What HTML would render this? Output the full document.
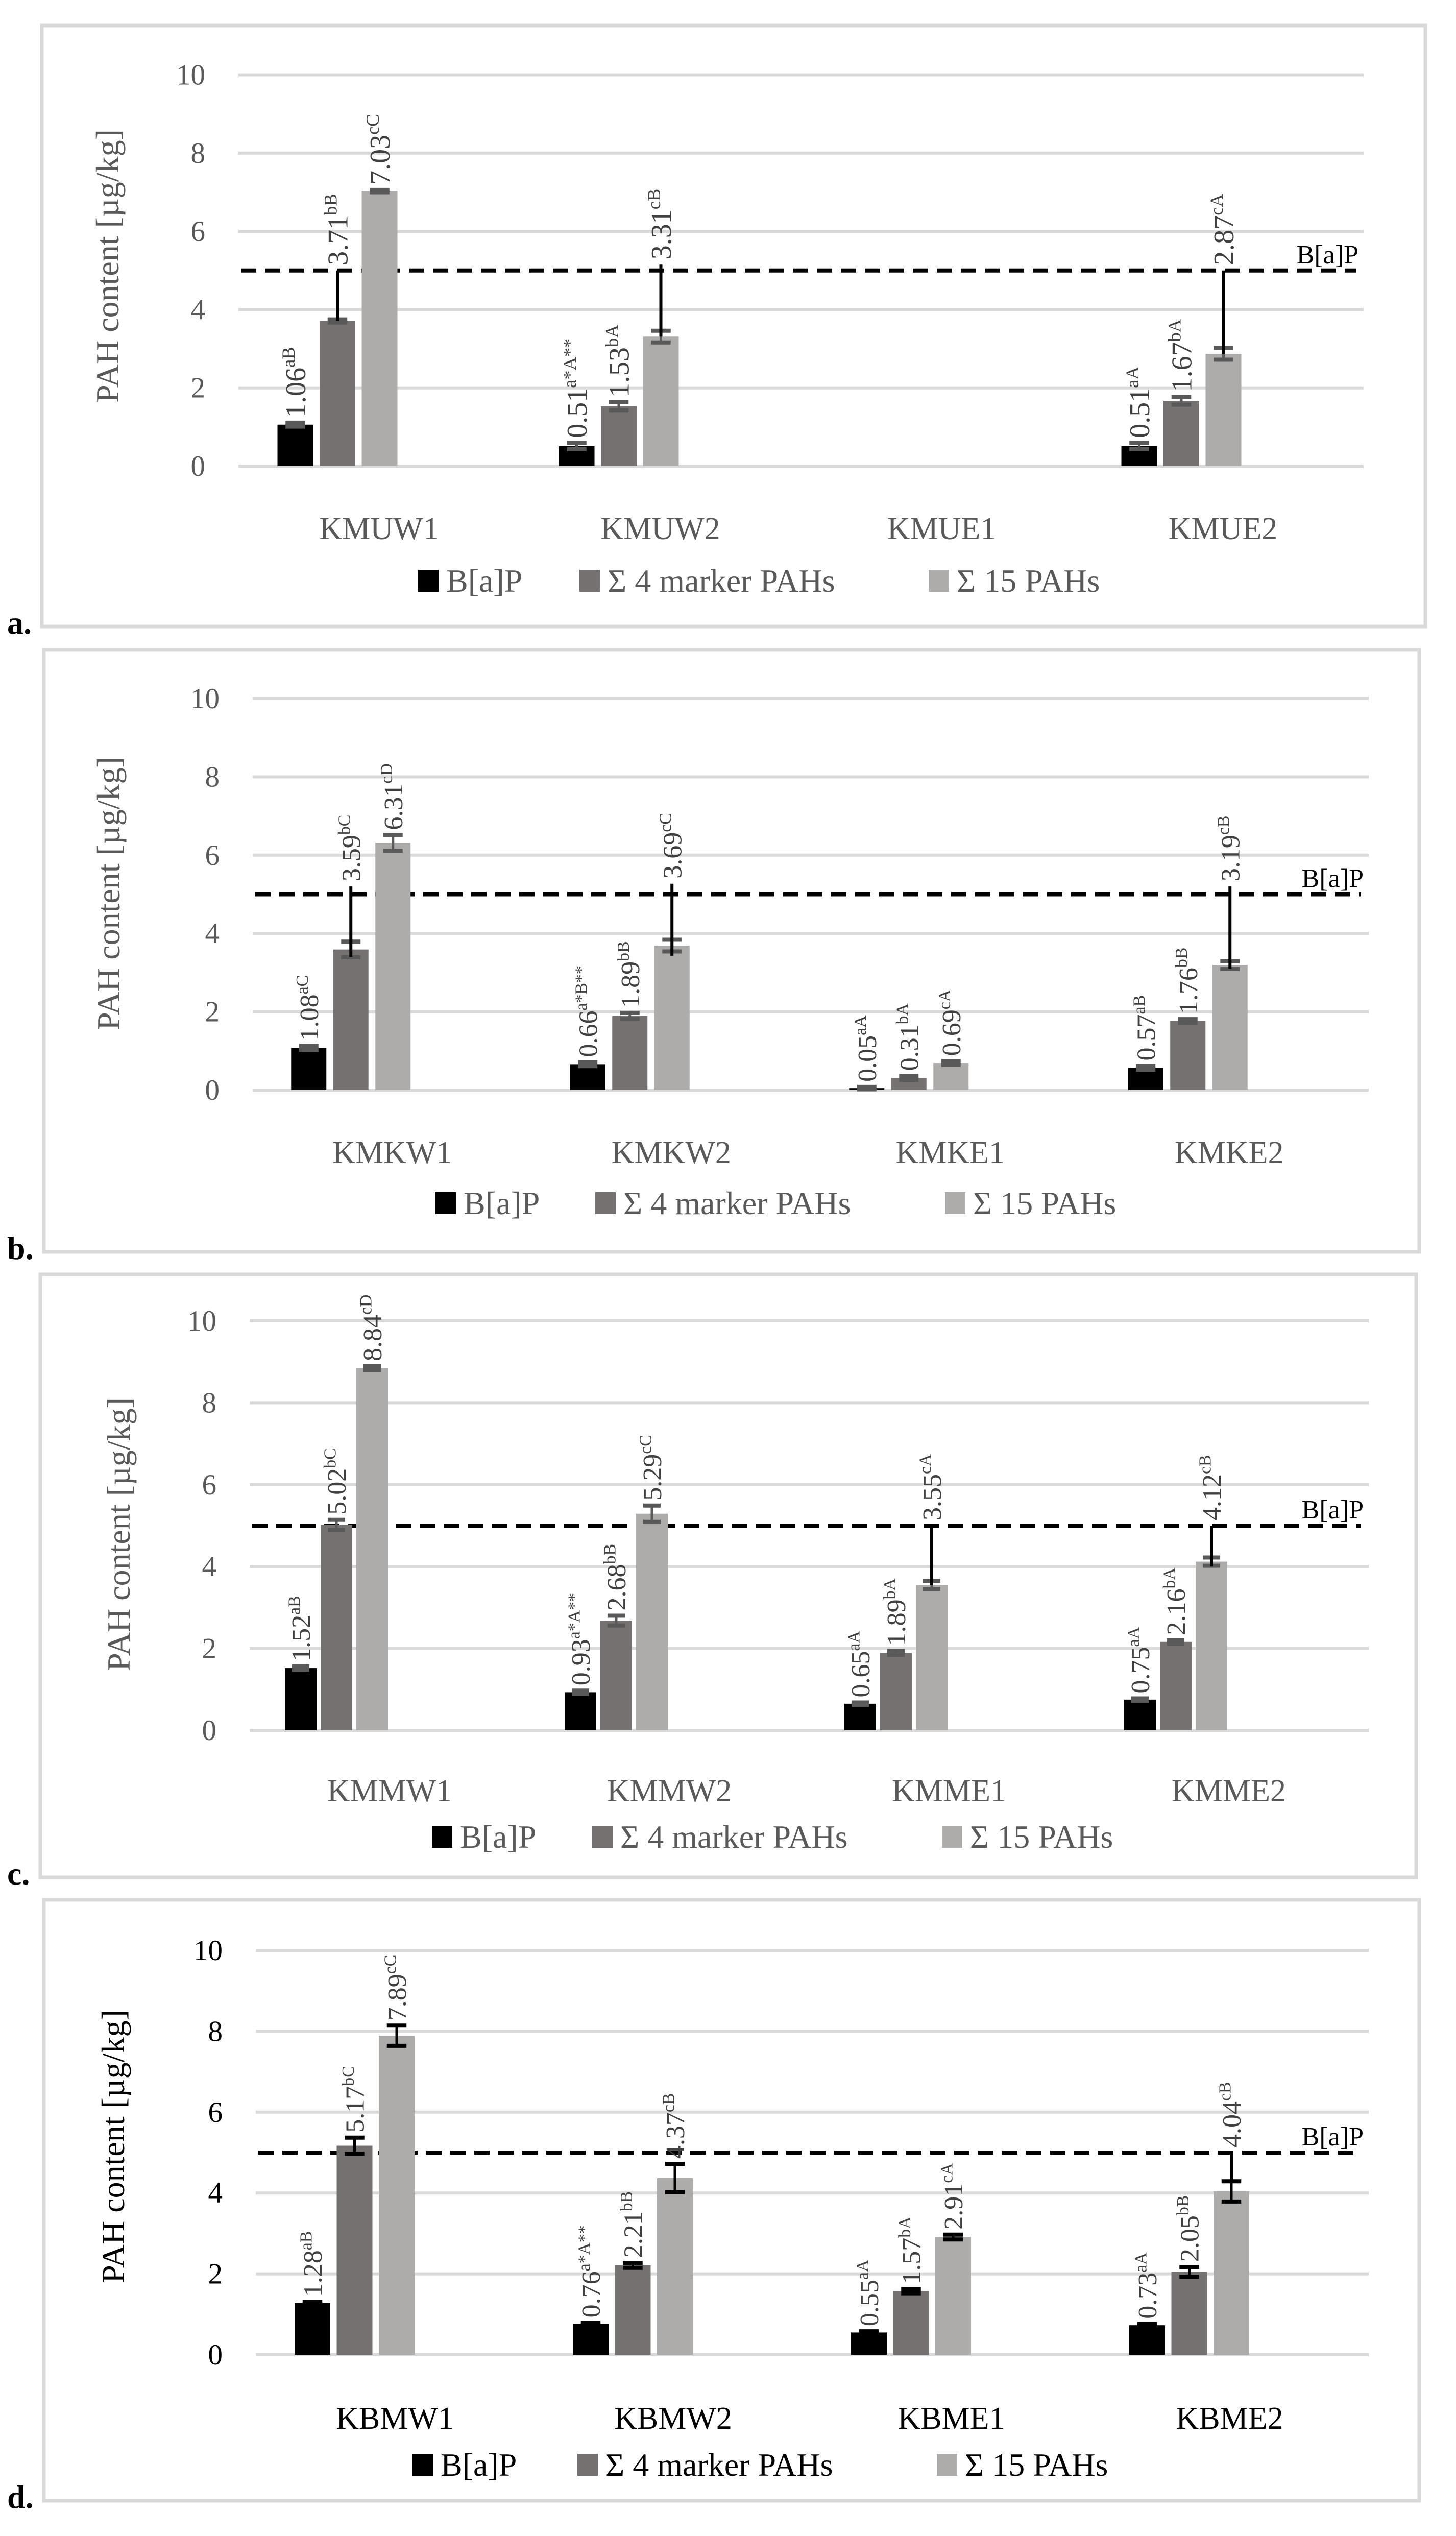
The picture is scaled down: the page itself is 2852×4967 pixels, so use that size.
<!DOCTYPE html>
<html><head><meta charset="utf-8">
<style>
html,body{margin:0;padding:0;background:#fff;}
svg{display:block;}
svg text{font-family:"Liberation Serif","DejaVu Serif",serif;}
</style></head>
<body>
<svg id="chart" width="2852" height="4967" viewBox="0 0 2852 4967" font-family="Liberation Serif, DejaVu Serif, serif" xmlns="http://www.w3.org/2000/svg"></svg>
<script>
// ---- data: panel a ----
const catsA = ["KMUW1","KMUW2","KMUE1","KMUE2"];
const bapA = [1.06, 0.51, null, 0.51];
const m4A  = [3.71, 1.53, null, 1.67];
const p15A = [7.03, 3.31, null, 2.87];
const bapSupA = ["aB","a*A**","","aA"];
const m4SupA  = ["bB","bA","","bA"];
const p15SupA = ["cC","cB","","cA"];
const errA = [[0.05,0.04,0.03],[0.08,0.1,0.15],[0,0,0],[0.08,0.1,0.15]];
const whiskA = [[null,[3.71,5.0],null],[null,null,[3.31,5.15]],[null,null,null],[null,null,[2.87,5.0]]];
// ---- data: panel b ----
const catsB = ["KMKW1","KMKW2","KMKE1","KMKE2"];
const bapB = [1.08, 0.66, 0.05, 0.57];
const m4B  = [3.59, 1.89, 0.31, 1.76];
const p15B = [6.31, 3.69, 0.69, 3.19];
const bapSupB = ["aC","a*B**","aA","aB"];
const m4SupB  = ["bC","bB","bA","bB"];
const p15SupB = ["cD","cC","cA","cB"];
const errB = [[0.05,0.2,0.2],[0.05,0.08,0.15],[0.03,0.05,0.05],[0.05,0.05,0.1]];
const whiskB = [[null,[3.4,5.2],null],[null,null,[3.43,5.27]],[null,null,null],[null,null,[3.1,5.2]]];
// ---- data: panel c ----
const catsC = ["KMMW1","KMMW2","KMME1","KMME2"];
const bapC = [1.52, 0.93, 0.65, 0.75];
const m4C  = [5.02, 2.68, 1.89, 2.16];
const p15C = [8.84, 5.29, 3.55, 4.12];
const bapSupC = ["aB","a*A**","aA","aA"];
const m4SupC  = ["bC","bB","bA","bA"];
const p15SupC = ["cD","cC","cA","cB"];
const errC = [[0.04,0.12,0.05],[0.04,0.12,0.2],[0.03,0.05,0.1],[0.03,0.04,0.1]];
const whiskC = [[null,null,null],[null,null,null],[null,null,[3.55,5.0]],[null,null,[4.0,5.0]]];
// ---- data: panel d ----
const catsD = ["KBMW1","KBMW2","KBME1","KBME2"];
const bapD = [1.28, 0.76, 0.55, 0.73];
const m4D  = [5.17, 2.21, 1.57, 2.05];
const p15D = [7.89, 4.37, 2.91, 4.04];
const bapSupD = ["aB","a*A**","aA","aA"];
const m4SupD  = ["bC","bB","bA","bB"];
const p15SupD = ["cC","cB","cA","cB"];
const errD = [[0.03,0.2,0.25],[0.03,0.06,0.35],[0.03,0.05,0.06],[0.03,0.12,0.25]];
const whiskD = [[null,null,null],[null,null,null],[null,null,null],[null,null,[4.3,5.0]]];
const yTicks = [0,2,4,6,8,10];
const limitValue = 5;
const seriesNames = ["B[a]P","Σ 4 marker PAHs","Σ 15 PAHs"];

const NS = "http://www.w3.org/2000/svg";
const svg = document.getElementById("chart");
function mk(tag, attrs, parent){
  const e = document.createElementNS(NS, tag);
  for (const k in attrs) e.setAttribute(k, attrs[k]);
  (parent||svg).appendChild(e);
  return e;
}
const colors = ["#000000","#767171","#AEABAB"];

const panels = [
  {letter:"a.", cats:catsA, vals:[bapA,m4A,p15A], sups:[bapSupA,m4SupA,p15SupA], err:errA, wh:whiskA,
   fx:82, fy:50, fw:2710, fh:1177, gl:467, gr:2671, y0:913, y10:146.5, off:-199, bw:70, st:82.5,
   catY:1035, legY:1138, legX:[819,1135,1819], ytX:210, ytY:521, lab:56, cap:"#595959", ttl:"#595959"},
  {letter:"b.", cats:catsB, vals:[bapB,m4B,p15B], sups:[bapSupB,m4SupB,p15SupB], err:errB, wh:whiskB,
   fx:86, fy:1273, fw:2694, fh:1179, gl:495, gr:2681, y0:2135, y10:1368, off:-198, bw:69, st:82.5,
   catY:2257, legY:2357, legX:[853,1166,1851], ytX:212, ytY:1750, lab:52, cap:"#595959", ttl:"#595959"},
  {letter:"c.", cats:catsC, vals:[bapC,m4C,p15C], sups:[bapSupC,m4SupC,p15SupC], err:errC, wh:whiskC,
   fx:79, fy:2496, fw:2695, fh:1181, gl:489, gr:2681, y0:3389, y10:2587, off:-205, bw:62, st:70,
   catY:3507, legY:3598, legX:[846,1160,1845], ytX:232, ytY:3005, lab:52, cap:"#595959", ttl:"#595959"},
  {letter:"d.", cats:catsD, vals:[bapD,m4D,p15D], sups:[bapSupD,m4SupD,p15SupD], err:errD, wh:whiskD,
   fx:86, fy:3721, fw:2694, fh:1177, gl:501, gr:2681, y0:4612, y10:3820, off:-196.5, bw:70, st:82.5,
   catY:4736, legY:4828, legX:[808,1131,1835], ytX:221, ytY:4204, lab:52, cap:"#000000", ttl:"#000000"}
];

panels.forEach((p, pi) => {
  const g = mk("g", {});
  
  
  const fr = mk("rect", {x:p.fx, y:p.fy, width:p.fw, height:p.fh, fill:"none", stroke:"#D9D9D9", "stroke-width":7}, g);
  
  
  const yv = v => p.y0 - (p.y0 - p.y10) * v / 10;
  const gw = (p.gr - p.gl) / p.cats.length;
  yTicks.forEach(t => {
    const ln = mk("line", {x1:p.gl, x2:p.gr, y1:yv(t), y2:yv(t), stroke:"#D9D9D9", "stroke-width":6}, g);
    
    
    const tx = mk("text", {x:p.gl-65, y:yv(t)+19, "text-anchor":"end", "font-size":57, fill:p.ttl}, g);
    tx.textContent = t;
    
    
  });
  const yt = mk("text", {x:0, y:0, transform:`translate(${p.ytX+22},${p.ytY}) rotate(-90)`, "text-anchor":"middle", "font-size":64, fill:p.ttl}, g);
  yt.textContent = "PAH content [µg/kg]";
  
  
  const dl = mk("line", {x1:p.gl+5, x2:p.gr-15, y1:yv(limitValue), y2:yv(limitValue), stroke:"#000", "stroke-width":8, "stroke-dasharray":"30 17"}, g);
  
  
  const dlt = mk("text", {x:p.gr-10, y:yv(limitValue)-14, "text-anchor":"end", "font-size":52, fill:"#000"}, g);
  dlt.textContent = "B[a]P";
  
  
  p.cats.forEach((c, ci) => {
    const cx = p.gl + gw * (ci + 0.5);
    const cl = mk("text", {x:cx, y:p.catY+21, "text-anchor":"middle", "font-size":62, fill:p.ttl}, g);
    cl.textContent = c;
    
    
    for (let s = 0; s < 3; s++) {
      const v = p.vals[s][ci];
      if (v === null) continue;
      const x = cx + p.off + s * p.st;
      const bx = x + p.bw / 2;
      const r = mk("rect", {x:x, y:yv(v), width:p.bw, height:p.y0 - yv(v), fill:colors[s]}, g);
      
      
      const e = p.err[ci][s];
      const capW = p.bw * 0.55;
      [v - e, v + e].forEach(ev => {
        const cp = mk("line", {x1:bx-capW/2, x2:bx+capW/2, y1:yv(ev), y2:yv(ev), stroke:p.cap, "stroke-width":8}, g);
        
        
      });
      const ev = mk("line", {x1:bx, x2:bx, y1:yv(v-e), y2:yv(v+e), stroke:p.cap, "stroke-width":5}, g);
      
      
      let top = v + e;
      const w = p.wh[ci][s];
      if (w) {
        const wl = mk("line", {x1:bx, x2:bx, y1:yv(w[0]), y2:yv(w[1]), stroke:"#000", "stroke-width":6}, g);
        
        
        top = Math.max(top, w[1]);
      }
      const ly = yv(top) - 10;
      const lt = mk("text", {x:0, y:0, transform:`translate(${bx + p.lab*0.35},${ly}) rotate(-90)`, "font-size":p.lab, fill:"#404040"}, g);
      
      
      const t1 = mk("tspan", {}, lt);
      t1.textContent = v.toFixed(2);
      const t2 = mk("tspan", {dy:-p.lab*0.38, "font-size":p.lab*0.65}, lt);
      t2.textContent = p.sups[s][ci];
    }
  });
  seriesNames.forEach((n, s) => {
    const lg = mk("g", {}, g);
    
    
    mk("rect", {x:p.legX[s], y:p.legY-22, width:40, height:43, fill:colors[s]}, lg);
    const lt = mk("text", {x:p.legX[s]+55, y:p.legY+21, "font-size":64, fill:p.ttl}, lg);
    lt.textContent = n;
  });
  const pl = mk("text", {x:14, y:p.fy+p.fh+14, "font-size":64, "font-weight":"bold", fill:"#000"}, g);
  pl.textContent = p.letter;
  
  
});
</script>
</body></html>
